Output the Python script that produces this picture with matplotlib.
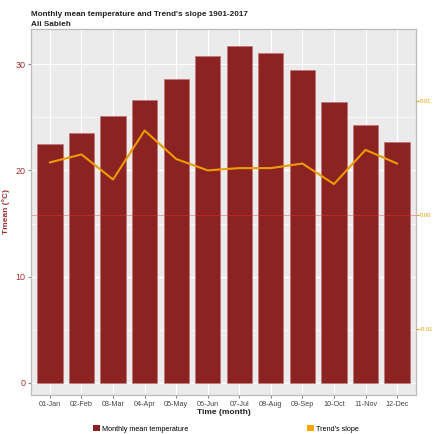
import matplotlib
matplotlib.use("Agg")
import matplotlib.pyplot as plt
from matplotlib.lines import Line2D
from matplotlib.patches import Patch
from matplotlib.transforms import blended_transform_factory
import numpy as np

months = ["01-Jan", "02-Feb", "03-Mar", "04-Apr", "05-May", "06-Jun",
          "07-Jul", "08-Aug", "09-Sep", "10-Oct", "11-Nov", "12-Dec"]
tmean = [22.5, 23.5, 25.1, 26.6, 28.6, 30.8, 31.7, 31.0, 29.4, 26.4, 24.3, 22.7]
slope = [0.0046, 0.0053, 0.0031, 0.0074, 0.0049, 0.0039,
         0.0041, 0.0041, 0.0045, 0.0027, 0.0057, 0.0045]

bar_color = "#8B2323"
line_color = "#EE9A00"
left_lab = "#A03030"

plt.rcParams['font.family'] = ['Liberation Sans', 'DejaVu Sans']

fig = plt.figure(figsize=(4.34, 4.34), dpi=100)
ax = fig.add_axes([31/434, 39/434, 385/434, 366/434])
ax2 = ax.twinx()

x = np.arange(len(months))
ax.set_facecolor("#EBEBEB")
ax.bar(x, tmean, width=0.8, color=bar_color, edgecolor="#C07070", linewidth=0.4, zorder=3)
ax.set_ylim(-1.13, 33.3)
ax.set_xlim(-0.6, 11.6)
ax.set_yticks([0, 10, 20, 30])
ax.set_yticks([5, 15, 25], minor=True)
ax.set_xticks(x)
ax.set_xticklabels(months)
ax.grid(True, which='major', color='white', linewidth=0.8, zorder=0)
ax.grid(True, which='minor', axis='y', color='white', linewidth=0.4, zorder=0)
ax.set_axisbelow(True)
ax.tick_params(axis='y', which='major', labelsize=6.5, labelcolor=left_lab, length=2, color='#888888', pad=2)
ax.tick_params(axis='y', which='minor', length=0)
ax.tick_params(axis='x', labelsize=5.2, labelcolor='#444444', length=2, color='#888888', pad=2)
ax.set_ylabel("Tmean (°C)", fontsize=6, fontweight='bold', color=left_lab, labelpad=4)
ax.set_xlabel("Time (month)", fontsize=6, fontweight='bold', color='#222222', labelpad=1)

ax2.set_ylim(-0.0158, 0.0163)
ax2.set_yticks([-0.01, 0.0, 0.01])
ax2.set_yticklabels(["-0.01", "0.00", "0.01"])
ax2.tick_params(axis='y', labelsize=4.2, labelcolor=line_color, color=line_color, length=2, pad=1)
ax2.plot(x, slope, color=line_color, linewidth=1.5, zorder=5)

# zero-slope reference line
hl = Line2D([0, 1], [0, 0], color="#FF3030", alpha=0.45, linewidth=0.6,
            transform=blended_transform_factory(ax.transAxes, ax2.transData), zorder=4)
ax.add_line(hl)

for a in (ax, ax2):
    for s in a.spines.values():
        s.set_color("#BBBBBB")
        s.set_linewidth(0.8)

fig.text(31/434, 1 - 15/434, "Monthly mean temperature and Trend's slope 1901-2017",
         fontsize=5.85, fontweight='bold', color='#222222', va='center')
fig.text(31/434, 1 - 24/434, "Ali Sabieh",
         fontsize=5.85, fontweight='bold', color='#222222', va='center')

handles = [Patch(facecolor=bar_color, edgecolor='none', label="Monthly mean temperature")]
handles2 = [Patch(facecolor="#FFA500", edgecolor='none', label="Trend's slope")]
fig.legend(handles=handles, loc='center left', bbox_to_anchor=(93/434, 1 - 429/434),
           frameon=False, fontsize=5.2, handlelength=0.9, handleheight=0.9, handletextpad=0.3,
           borderpad=0, borderaxespad=0)
fig.legend(handles=handles2, loc='center left', bbox_to_anchor=(307/434, 1 - 429/434),
           frameon=False, fontsize=5.2, handlelength=0.9, handleheight=0.9, handletextpad=0.3,
           borderpad=0, borderaxespad=0)

fig.savefig("out.png", dpi=100, facecolor='white')
